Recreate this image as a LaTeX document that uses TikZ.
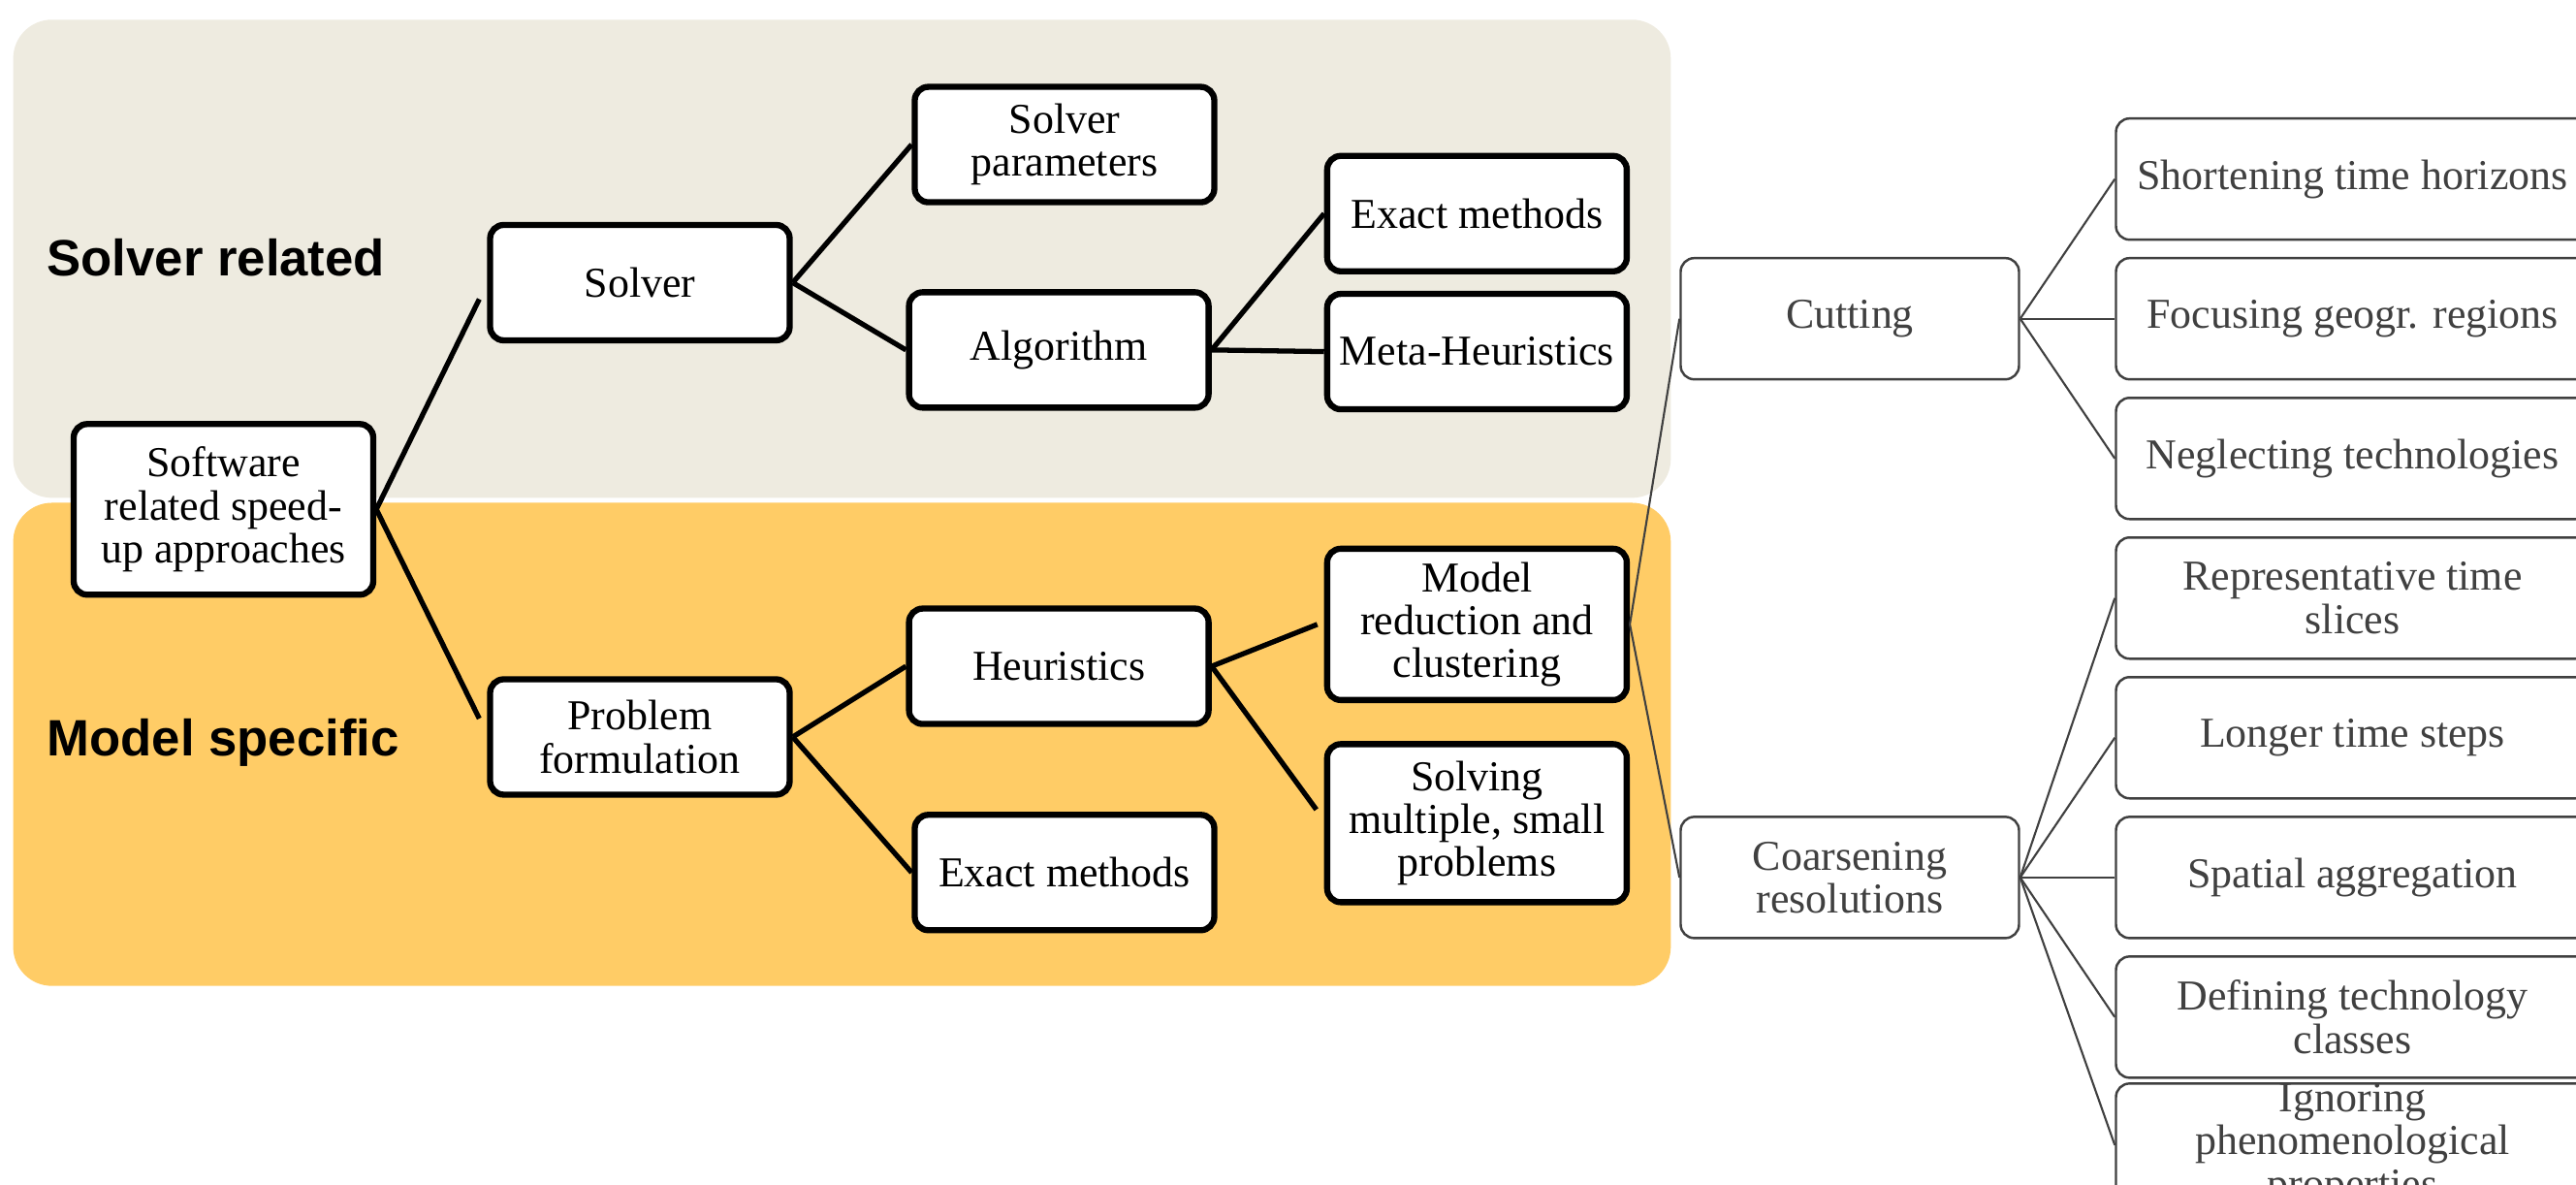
\documentclass[tikz,border=0pt]{standalone}
\usepackage{fontspec}
\setmainfont{Liberation Serif}
\newfontfamily\headfont{Liberation Sans}
\usetikzlibrary{positioning}
\definecolor{solverbg}{HTML}{EEEBE0}
\definecolor{modelbg}{HTML}{FFCC66}
\definecolor{darkgrey}{HTML}{404040}

\begin{document}
\begin{tikzpicture}[
  box/.style={draw, line width=1.8pt, rounded corners=4pt, fill=white, minimum width=3.09cm, minimum height=1.19cm, align=center, inner sep=2pt, font=\fontsize{12.5}{12.6}\selectfont},
  gbox/.style={draw=darkgrey, line width=0.7pt, rounded corners=4pt, fill=white, text=darkgrey, minimum height=1.25cm, align=center, inner sep=2pt, font=\fontsize{12.5}{12.6}\selectfont},
  con/.style={line width=1.5pt},
  gcon/.style={draw=darkgrey, line width=0.6pt},
  side/.style={anchor=west, font=\headfont\bfseries\fontsize{15}{18}\selectfont}
]
  \useasboundingbox (0,0) rectangle (26.57,12.22);
  \clip (0,0) rectangle (26.57,12.22);

  % ----- Bereiche (Hintergrund) -----
  \fill[solverbg, rounded corners=0.4cm] (0.136,7.086) rectangle (17.233,12.017);
  \fill[modelbg, rounded corners=0.4cm] (0.136,2.053) rectangle (17.233,7.035);
  \node[side] (srel)  at (0.36,9.56) {Solver related};
  \node[side] (mspec) at (0.36,4.56) {Model specific};

  % ----- Baum (schwarz) -----
  \node[box, minimum height=1.76cm] (sw) at (2.305,6.967) {Software\\related speed-\\up approaches};
  \node[box] (solver) at (6.600,9.305) {Solver};
  \node[box] (prob)   at (6.600,4.620) {Problem\\formulation};
  \node[box] (spar)   at (10.980,10.729) {Solver\\parameters};
  \node[box] (algo)   at (10.921,8.611) {Algorithm};
  \node[box] (exa)    at (15.234,10.017) {Exact methods};
  \node[box] (meta)   at (15.234,8.594) {Meta-Heuristics};
  \node[box] (heur)   at (10.921,5.349) {Heuristics};
  \node[box] (exb)    at (10.980,3.222) {Exact methods};
  \node[box, minimum height=1.56cm] (mred) at (15.234,5.781) {Model\\reduction and\\clustering};
  \node[box, minimum height=1.63cm] (smul) at (15.234,3.731) {Solving\\multiple, small\\problems};

  % ----- Detail (grau) -----
  \node[gbox, minimum width=3.49cm] (cut)  at (19.080,8.933) {Cutting};
  \node[gbox, minimum width=3.49cm] (coar) at (19.080,3.171) {Coarsening\\resolutions};

  \node[gbox, minimum width=4.88cm] (r1) at (24.265,10.373) {Shortening time horizons};
  \node[gbox, minimum width=4.88cm] (r2) at (24.265,8.933) {Focusing geogr. regions};
  \node[gbox, minimum width=4.88cm] (r3) at (24.265,7.492) {Neglecting technologies};
  \node[gbox, minimum width=4.88cm] (r4) at (24.265,6.052) {Representative time\\slices};
  \node[gbox, minimum width=4.88cm] (r5) at (24.265,4.612) {Longer time steps};
  \node[gbox, minimum width=4.88cm] (r6) at (24.265,3.171) {Spatial aggregation};
  \node[gbox, minimum width=4.88cm] (r7) at (24.265,1.731) {Defining technology\\classes};
  \node[gbox, minimum width=4.88cm, inner ysep=0pt, below=1pt of r7] (r8) {Ignoring\\phenomenological\\properties};

  % ----- Verbindungen -----
  \draw[con] (sw.east) -- ([shift={(-0.08,-0.17)}]solver.west);
  \draw[con] (sw.east) -- ([shift={(-0.08,0.19)}]prob.west);
  \draw[con] (solver.east) -- (spar.west);
  \draw[con] (solver.east) -- (algo.west);
  \draw[con] (algo.east) -- (exa.west);
  \draw[con] (algo.east) -- (meta.west);
  \draw[con] (prob.east) -- (heur.west);
  \draw[con] (prob.east) -- (exb.west);
  \draw[con] (heur.east) -- ([xshift=-0.07cm]mred.west);
  \draw[con] (heur.east) -- ([shift={(-0.08,0.14)}]smul.west);

  \draw[gcon] (mred.east) -- (cut.west);
  \draw[gcon] (mred.east) -- (coar.west);
  \foreach \t in {r1,r2,r3} \draw[gcon] (cut.east) -- (\t.west);
  \foreach \t in {r4,r5,r6,r7,r8} \draw[gcon] (coar.east) -- (\t.west);
\end{tikzpicture}
\end{document}
